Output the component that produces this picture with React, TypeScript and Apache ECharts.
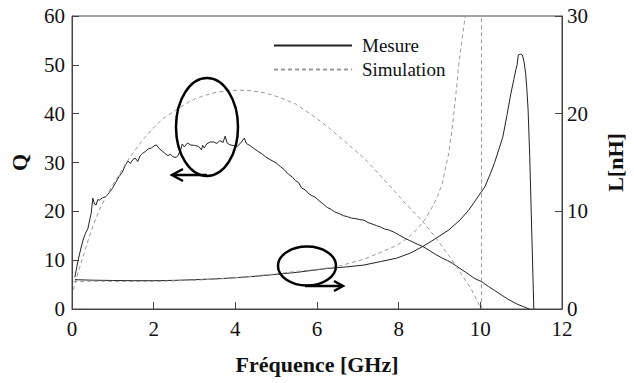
import React, { useEffect, useRef } from "react";
import * as echarts from "echarts";

// Frequency (GHz) / value pairs
const qMesure: [number, number][] = [
  [0.07, 6.5], [0.15, 10], [0.22, 12.5], [0.27, 14.1], [0.33, 15.5], [0.39, 16.5], [0.44, 18.5],
  [0.47, 19.6], [0.51, 22.7], [0.55, 21.5], [0.59, 21.3], [0.63, 22.4], [0.67, 22.3], [0.75, 22.8],
  [0.83, 23.0], [0.91, 23.8], [0.99, 24.7], [1.07, 25.9], [1.15, 27.1], [1.23, 28.0], [1.31, 29.5],
  [1.37, 30.3], [1.43, 29.8], [1.49, 30.6], [1.55, 30.9], [1.61, 30.2], [1.67, 31.4], [1.73, 31.9],
  [1.79, 32.2], [1.87, 32.8], [1.95, 33.0], [2.01, 33.4], [2.07, 33.6], [2.13, 32.9], [2.2, 32.4],
  [2.27, 31.9], [2.35, 31.4], [2.41, 31.7], [2.47, 31.2], [2.55, 31.0], [2.6, 31.5], [2.67, 32.8],
  [2.7, 33.8], [2.75, 33.2], [2.83, 34.0], [2.9, 33.6], [3.0, 33.5], [3.1, 33.3], [3.17, 32.6],
  [3.2, 33.5], [3.24, 33.0], [3.3, 33.8], [3.38, 34.2], [3.47, 34.2], [3.55, 33.9], [3.62, 34.5],
  [3.7, 34.1], [3.75, 35.4], [3.8, 34.0], [3.87, 33.6], [3.95, 33.5], [4.05, 33.3], [4.15, 34.2],
  [4.22, 35.0], [4.27, 33.9], [4.35, 33.5], [4.45, 32.9], [4.55, 32.3], [4.65, 31.8], [4.75, 31.1],
  [4.85, 30.6], [5.0, 29.9], [5.1, 29.2], [5.2, 28.5], [5.3, 27.6], [5.4, 27.0], [5.47, 26.3],
  [5.55, 25.9], [5.62, 24.8], [5.71, 24.4], [5.8, 23.6], [5.88, 23.2], [5.95, 22.9], [6.05, 22.2],
  [6.15, 21.5], [6.25, 20.8], [6.35, 20.4], [6.43, 19.9], [6.55, 19.5], [6.65, 19.1], [6.75, 18.9],
  [6.85, 18.6], [6.95, 18.5], [7.05, 18.3], [7.15, 18.2], [7.25, 17.7], [7.35, 17.4], [7.45, 17.1],
  [7.55, 16.8], [7.65, 16.4], [7.75, 16.2], [7.87, 15.8], [8.0, 15.2], [8.15, 14.5], [8.3, 13.9],
  [8.45, 13.3], [8.59, 12.8], [8.75, 12.0], [8.9, 11.2], [9.05, 10.5], [9.2, 9.9], [9.31, 9.4],
  [9.5, 8.3], [9.7, 7.2], [9.85, 6.3], [10.03, 5.6], [10.2, 4.6], [10.35, 3.8], [10.51, 2.9],
  [10.7, 1.9], [10.9, 1.0], [11.05, 0.5], [11.2, 0.0],
];

const qSimulation: [number, number][] = [
  [0.03, 3.9], [0.15, 7.5], [0.27, 10.7], [0.4, 14.2], [0.51, 16.9], [0.65, 19.9], [0.83, 23.0],
  [1.0, 25.5], [1.15, 27.4], [1.35, 30.2], [1.55, 32.6], [1.75, 34.8], [1.95, 36.7], [2.2, 38.8],
  [2.52, 40.6], [2.8, 42.1], [3.0, 43.0], [3.24, 43.7], [3.5, 44.3], [3.8, 44.7], [4.1, 44.8],
  [4.4, 44.7], [4.75, 44.2], [5.06, 43.4], [5.47, 42.0], [5.95, 39.3], [6.3, 37.0], [6.67, 34.4],
  [7.15, 30.9], [7.5, 27.8], [7.87, 24.4], [8.2, 21.3], [8.59, 17.9], [8.9, 14.7], [9.1, 12.4],
  [9.31, 10.0], [9.55, 7.0], [9.79, 3.9], [9.99, 0.5], [10.03, 0],
];

const lMesure: [number, number][] = [
  [0.07, 3.0], [0.5, 2.95], [1.0, 2.92], [1.5, 2.9], [2.0, 2.9], [2.5, 2.93], [3.0, 3.0],
  [3.5, 3.08], [4.0, 3.2], [4.5, 3.35], [5.0, 3.55], [5.5, 3.75], [5.88, 3.95], [6.26, 4.15],
  [6.7, 4.3], [7.15, 4.5], [7.55, 4.85], [7.95, 5.2], [8.3, 5.75], [8.59, 6.4], [8.9, 7.2],
  [9.23, 8.1], [9.5, 9.1], [9.71, 10.1], [9.96, 11.6], [10.11, 12.5], [10.25, 13.9], [10.35, 15.0],
  [10.45, 16.3], [10.55, 17.6], [10.65, 19.8], [10.75, 22.1], [10.82, 23.5], [10.87, 24.5],
  [10.9, 25.0], [10.93, 26.0], [10.98, 26.1], [11.03, 26.0], [11.07, 25.3], [11.11, 24.1],
  [11.14, 22.5], [11.17, 20.4], [11.21, 15.6], [11.31, 0],
];

const lSimulation: [number, number][] = [
  [0.03, 2.8], [0.5, 2.85], [1.0, 2.83], [1.5, 2.82], [2.0, 2.83], [2.5, 2.88], [3.0, 2.95],
  [3.5, 3.05], [4.0, 3.2], [4.5, 3.4], [5.0, 3.6], [5.5, 3.85], [6.0, 4.05], [6.5, 4.35],
  [7.15, 5.1], [7.5, 5.7], [7.95, 6.5], [8.2, 7.2], [8.43, 8.1], [8.65, 9.2], [8.83, 10.5],
  [8.95, 11.5], [9.07, 12.9], [9.15, 14.5], [9.23, 16.0], [9.31, 18.5], [9.39, 21.5], [9.47, 25.0],
  [9.55, 27.5], [9.63, 30], [9.75, 36], [10.03, 36], [10.03, 0],
];

const legendNames = ["Mesure", "Simulation"];
const xTitle = "Fréquence [GHz]";
const qTitle = "Q";
const lTitle = "L[nH]";

const FONT = "Liberation Serif, Times New Roman, serif";
const AXIS_COLOR = "#444";
const SOLID = "#222";
const DASHED = "#9a9a9a";

export default function App() {
  const ref = useRef<HTMLDivElement>(null);
  useEffect(() => {
    if (!ref.current) return;
    const chart = echarts.init(ref.current, null, { renderer: "svg" });
    const axisCommon = {
      axisLine: { show: true, lineStyle: { color: AXIS_COLOR, width: 1 } },
      axisTick: { show: true, inside: true, length: 7, lineStyle: { color: AXIS_COLOR } },
      splitLine: { show: false },
      nameTextStyle: { fontFamily: FONT, fontSize: 22, fontWeight: "bold", color: "#111" },
    };
    const labelStyle = { fontFamily: FONT, fontSize: 21, color: "#111", lineHeight: 16 };
    const solidLine = { color: SOLID, width: 1 };
    const dashedLine = { color: DASHED, width: 1, type: [4, 3] };
    chart.setOption({
      animation: false,
      backgroundColor: "#fff",
      textStyle: { fontFamily: FONT },
      grid: {
        left: 72, right: 62, top: 16, bottom: 74,
        show: true, borderColor: AXIS_COLOR, borderWidth: 1, backgroundColor: "transparent",
      },
      legend: {
        data: legendNames,
        orient: "vertical",
        left: 268,
        top: 31,
        itemWidth: 78,
        itemHeight: 14,
        itemGap: 5,
        itemStyle: { opacity: 0 },
        textStyle: { fontFamily: FONT, fontSize: 19, color: "#111", padding: [0, 0, 0, 5] },
      },
      xAxis: {
        type: "value",
        min: 0, max: 12, interval: 2,
        name: xTitle, nameLocation: "middle", nameGap: 44,
        ...axisCommon,
        axisLabel: { ...labelStyle, margin: 12 },
      },
      yAxis: [
        {
          type: "value", position: "left",
          min: 0, max: 60, interval: 10,
          name: qTitle, nameLocation: "middle", nameGap: 42, nameRotate: 90,
          ...axisCommon,
          axisLabel: { ...labelStyle, margin: 7 },
        },
        {
          type: "value", position: "right",
          min: 0, max: 30, interval: 10,
          name: lTitle, nameLocation: "middle", nameGap: 42, nameRotate: 90,
          ...axisCommon,
          axisLabel: { ...labelStyle, margin: 5 },
        },
      ],
      series: [
        { name: "Mesure", type: "line", yAxisIndex: 0, data: qMesure, symbol: "none", clip: true, lineStyle: solidLine, itemStyle: { color: SOLID } },
        { name: "Simulation", type: "line", yAxisIndex: 0, data: qSimulation, symbol: "none", clip: true, lineStyle: dashedLine, itemStyle: { color: DASHED } },
        { name: "Mesure", type: "line", yAxisIndex: 1, data: lMesure, symbol: "none", clip: true, lineStyle: solidLine, itemStyle: { color: SOLID } },
        { name: "Simulation", type: "line", yAxisIndex: 1, data: lSimulation, symbol: "none", clip: true, lineStyle: dashedLine, itemStyle: { color: DASHED } },
      ],
      graphic: [
        { type: "ellipse", shape: { cx: 207, cy: 127, rx: 31, ry: 49 }, style: { fill: "none", stroke: "#000", lineWidth: 2.5 }, z: 100 },
        { type: "line", shape: { x1: 207, y1: 175, x2: 173, y2: 175 }, style: { stroke: "#000", lineWidth: 2.5 }, z: 100 },
        { type: "polyline", shape: { points: [[183, 169], [172, 175], [183, 181]] }, style: { fill: "none", stroke: "#000", lineWidth: 2.5 }, z: 100 },
        { type: "ellipse", shape: { cx: 307, cy: 266, rx: 29, ry: 19.5 }, style: { fill: "none", stroke: "#000", lineWidth: 2.5 }, z: 100 },
        { type: "line", shape: { x1: 305, y1: 286, x2: 342, y2: 286 }, style: { stroke: "#000", lineWidth: 2.5 }, z: 100 },
        { type: "polyline", shape: { points: [[334, 281], [343, 286], [334, 291]] }, style: { fill: "none", stroke: "#000", lineWidth: 2.5 }, z: 100 },
      ],
    });
    return () => chart.dispose();
  }, []);
  return <div ref={ref} style={{ width: 634, height: 383, position: "absolute", left: 0, top: 0 }} />;
}
